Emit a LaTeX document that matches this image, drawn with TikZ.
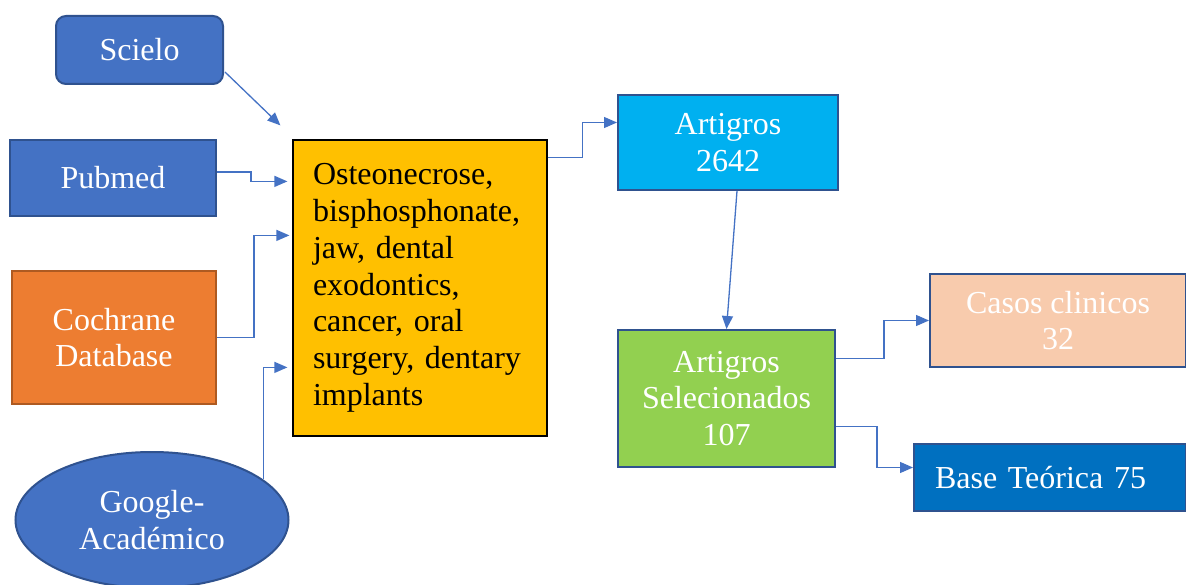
\documentclass[tikz,border=0pt]{standalone}
\usepackage{fontspec}
\setmainfont{Liberation Serif}
\usetikzlibrary{arrows.meta,calc,positioning,shapes.geometric}
\definecolor{srcblue}{HTML}{4472C4}
\definecolor{edgeblue}{HTML}{2F528F}
\definecolor{srcorange}{HTML}{ED7D31}
\definecolor{edgeorange}{HTML}{AE5A21}
\definecolor{kwyellow}{HTML}{FFC000}
\definecolor{artcyan}{HTML}{00B0F0}
\definecolor{selgreen}{HTML}{92D050}
\definecolor{caspeach}{HTML}{F8CBAD}
\definecolor{baseblue}{HTML}{0070C0}

\begin{document}
\begin{tikzpicture}[x=1pt,y=-1pt,>={Triangle[length=13pt,width=11pt]},
  every node/.style={font=\fontsize{32}{36.8}\selectfont},
  srcbox/.style={draw=edgeblue,line width=2pt,fill=srcblue,text=white,align=center},
  outbox/.style={draw=edgeblue,line width=2pt,text=white,align=center},
  link/.style={->,draw=srcblue,line width=1.3pt}]
\useasboundingbox (0,0) rectangle (1186,585);
% sources
\node[srcbox,rounded corners=10pt,minimum width=167pt,minimum height=68pt] (sci) at (139.5,50) {Scielo};
\node[srcbox,minimum width=206pt,minimum height=76pt] (pub) at (113,178) {Pubmed};
\node[srcbox,fill=srcorange,draw=edgeorange,minimum width=204pt,minimum height=133pt] (coch) at (114,337.5) {Cochrane\\Database};
\node[srcbox,ellipse,inner sep=0pt,minimum width=273pt,minimum height=136pt] (goo) at (152,520) {Google-\\Académico};
% keywords
\node[draw=black,line width=1.2pt,fill=kwyellow,minimum height=296pt,inner xsep=20pt,text width=214pt,align=left] (kw) at (420,288)
  {Osteonecrose,\\bisphosphonate,\\jaw, dental\\exodontics,\\cancer, oral\\surgery, dentary\\implants};
% results
\node[outbox,fill=artcyan,minimum width=220pt,minimum height=95pt] (art) at (728,142.5) {Artigros\\2642};
\node[outbox,fill=selgreen,minimum width=217pt,minimum height=137pt] (sel) at (726.5,398.5) {Artigros\\Selecionados\\107};
\node[outbox,fill=caspeach,minimum width=256pt,minimum height=93pt] (cas) at (1058,320.5) {Casos clinicos\\32};
\node[outbox,fill=baseblue,minimum height=67pt,inner xsep=21pt,text width=230pt,align=left] (base) at (1050,477.5) {Base Teórica 75};
% connectors
\coordinate (kwin) at ($(kw.north west)+(-12,-14)$);
\draw[link] ($(sci.east)+(1,22)$) -- (kwin);
\draw[link] ($(pub.east)+(0,-6)$) -- ++(34,0) |- ($(kw.north west)+(-5,42)$);
\draw[link] (coch.east) -- ++(37,0) |- ($(kw.north west)+(-3,96)$);
\draw[link] (goo.20) |- ($(kw.north west)+(-5,228)$);
\draw[link] ($(kw.north east)+(0,18)$) -- ++(35,0) |- ($(art.west)+(0,-20)$);
\draw[link] ($(art.south)+(9,0)$) -- (sel.north);
\draw[link] ($(sel.east)+(0,-40)$) -- ++(48,0) |- (cas.west);
\draw[link] ($(sel.east)+(0,28)$) -- ++(41,0) |- ($(base.west)+(0,-10)$);
\end{tikzpicture}
\end{document}
